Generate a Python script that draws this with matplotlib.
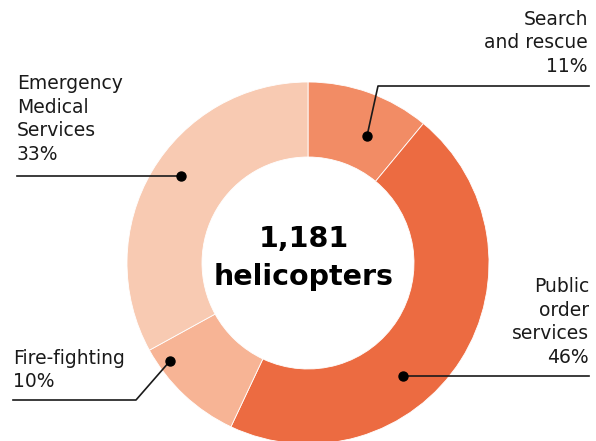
import matplotlib
matplotlib.use("Agg")
from matplotlib import pyplot as plt

# slices, clockwise from 12 o'clock
labels = ["Search\nand rescue\n11%", "Public\norder\nservices\n46%",
          "Fire-fighting\n10%", "Emergency\nMedical\nServices\n33%"]
shares = [11, 46, 10, 33]
colors = ["#F28C65", "#EC6B41", "#F7B495", "#F8CAB2"]
total = "1,181\nhelicopters"

plt.rcParams['font.family'] = ['DejaVu Sans']

fig = plt.figure(figsize=(5.96, 4.41), dpi=100)
ax = fig.add_axes([0, 0, 1, 1])

# pixel coordinates, y pointing down
cx, cy, r_out, r_in = 308, 263, 181, 106
ax.pie(shares, colors=colors, center=(cx, cy), radius=r_out, startangle=-90,
       counterclock=True,
       wedgeprops=dict(width=r_out - r_in, edgecolor='white', linewidth=0.6))
ax.set_xlim(0, 596)
ax.set_ylim(441, 0)
ax.set_aspect('equal')
ax.axis('off')

ax.text(cx - 4, cy - 5, total, ha='center', va='center', fontsize=20.5,
        fontweight='bold', linespacing=1.42, color='black')

lab_kw = dict(fontsize=13.5, linespacing=1.3, color='#1a1a1a')
ln_kw = dict(color='#1a1a1a', lw=1.2)
dot_kw = dict(color='black', s=42, zorder=5)

# search and rescue
ax.text(588, 43, labels[0], ha='right', va='center', **lab_kw)
ax.plot([367, 378, 589], [136, 86, 86], **ln_kw)
ax.scatter([367], [136], **dot_kw)

# public order
ax.text(589, 322, labels[1], ha='right', va='center', **lab_kw)
ax.plot([403, 589], [376, 376], **ln_kw)
ax.scatter([403], [376], **dot_kw)

# fire-fighting
ax.text(13, 370, labels[2], ha='left', va='center', **lab_kw)
ax.plot([170, 136, 13], [361, 400, 400], **ln_kw)
ax.scatter([170], [361], **dot_kw)

# EMS
ax.text(17, 119, labels[3], ha='left', va='center', **lab_kw)
ax.plot([17, 181], [176, 176], **ln_kw)
ax.scatter([181], [176], **dot_kw)

fig.savefig("out.png", dpi=100)
